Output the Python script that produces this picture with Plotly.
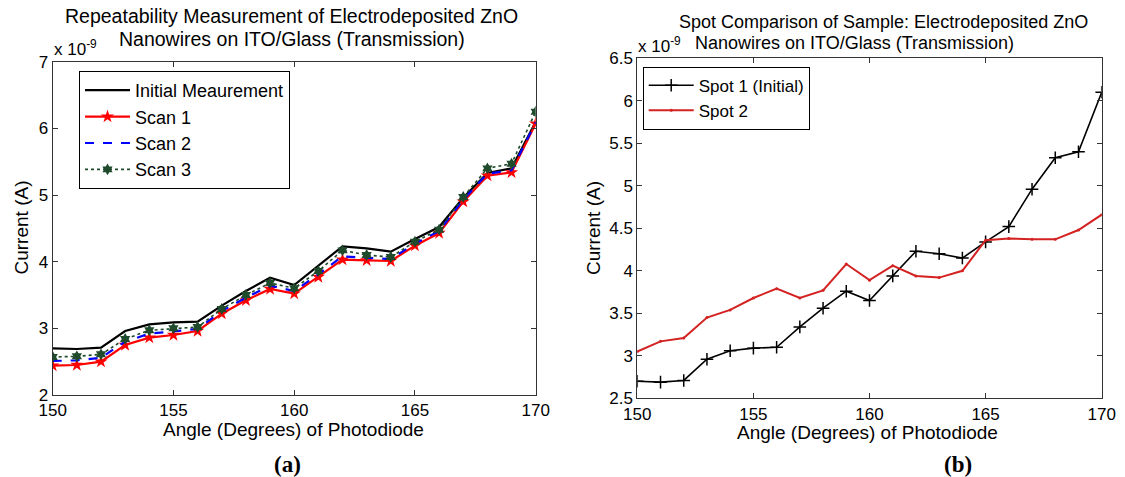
import plotly.graph_objects as go

# ---- data (current in units of 1e-9 A) ----
angles = list(range(150, 171))
initial = [2.70, 2.69, 2.71, 2.96, 3.06, 3.09, 3.10, 3.34, 3.56, 3.76, 3.65,
           3.94, 4.23, 4.20, 4.15, 4.34, 4.52, 4.96, 5.33, 5.40, 6.10]
scan1 = [2.44, 2.45, 2.50, 2.75, 2.86, 2.90, 2.96, 3.22, 3.42, 3.59, 3.52,
         3.77, 4.03, 4.02, 4.01, 4.24, 4.43, 4.90, 5.29, 5.34, 6.07]
scan2 = [2.51, 2.52, 2.56, 2.80, 2.92, 2.95, 2.99, 3.26, 3.46, 3.64, 3.56,
         3.81, 4.08, 4.06, 4.04, 4.27, 4.46, 4.93, 5.32, 5.37, 6.09]
scan3 = [2.57, 2.58, 2.61, 2.84, 2.97, 3.00, 3.02, 3.29, 3.50, 3.68, 3.60,
         3.86, 4.17, 4.10, 4.07, 4.30, 4.48, 4.97, 5.40, 5.47, 6.25]
spot1 = [2.70, 2.69, 2.71, 2.96, 3.06, 3.09, 3.10, 3.34, 3.56, 3.76, 3.65,
         3.94, 4.23, 4.20, 4.15, 4.34, 4.52, 4.96, 5.33, 5.40, 6.10]
spot2 = [3.05, 3.17, 3.21, 3.45, 3.54, 3.68, 3.79, 3.68, 3.77, 4.08, 3.89,
         4.06, 3.94, 3.92, 4.00, 4.36, 4.38, 4.37, 4.37, 4.48, 4.66]

x_ticks = [150, 155, 160, 165, 170]
y_ticks_a = [2, 3, 4, 5, 6, 7]
y_ticks_b = [2.5, 3, 3.5, 4, 4.5, 5, 5.5, 6, 6.5]
y_ticklabels_b = ["2.5", "3", "3.5", "4", "4.5", "5", "5.5", "6", "6.5"]

title_a = ["Repeatability Measurement of Electrodeposited ZnO",
           "Nanowires on ITO/Glass (Transmission)"]
title_b = ["Spot Comparison of Sample: Electrodeposited ZnO",
           "Nanowires on ITO/Glass (Transmission)"]
x_title = "Angle (Degrees) of Photodiode"
y_title = "Current (A)"

W, H = 1125, 477
FONT = "Liberation Sans, Arial, sans-serif"


def px(x):
    return x / W


def py(y):
    return 1 - y / H


fig = go.Figure()

# ---- panel (a) ----
fig.add_trace(go.Scatter(x=angles, y=initial, name="Initial Meaurement", mode="lines",
                         line=dict(color="black", width=2.2),
                         xaxis="x", yaxis="y", legend="legend"))
fig.add_trace(go.Scatter(x=angles, y=scan1, name="Scan 1", mode="lines+markers",
                         line=dict(color="#ff0000", width=2.2),
                         marker=dict(symbol="star", size=10, color="#ff0000"),
                         xaxis="x", yaxis="y", legend="legend"))
fig.add_trace(go.Scatter(x=angles, y=scan2, name="Scan 2", mode="lines",
                         line=dict(color="#0000ff", width=2.2, dash="dash"),
                         xaxis="x", yaxis="y", legend="legend"))
fig.add_trace(go.Scatter(x=angles, y=scan3, name="Scan 3", mode="lines+markers",
                         line=dict(color="#1f4a2c", width=1.6, dash="dot"),
                         marker=dict(symbol="hexagram", size=9, color="#1f4a2c"),
                         xaxis="x", yaxis="y", legend="legend"))

# ---- panel (b) ----
fig.add_trace(go.Scatter(x=angles, y=spot1, name="Spot 1 (Initial)", mode="lines+markers",
                         line=dict(color="black", width=1.6),
                         marker=dict(symbol="cross-thin", size=9,
                                     line=dict(color="black", width=1.5)),
                         xaxis="x2", yaxis="y2", legend="legend2"))
fig.add_trace(go.Scatter(x=angles, y=spot2, name="Spot 2", mode="lines+markers",
                         line=dict(color="#d42222", width=2),
                         marker=dict(symbol="circle", size=3, color="#d42222"),
                         xaxis="x2", yaxis="y2", legend="legend2"))

axis_common = dict(showline=True, linecolor="#333333", linewidth=1, mirror="ticks",
                   ticks="inside", ticklen=5, tickcolor="#333333", showgrid=False,
                   zeroline=False, automargin=False,
                   tickfont=dict(family=FONT, size=17, color="black"))

fig.update_layout(
    width=W, height=H,
    margin=dict(l=0, r=0, t=0, b=0, pad=0),
    paper_bgcolor="white", plot_bgcolor="white",
    showlegend=True,
    xaxis=dict(domain=[px(52.7), px(535.7)], range=[150, 170], tickvals=x_ticks,
               anchor="y", **axis_common),
    yaxis=dict(domain=[py(395), py(61.7)], range=[2, 7], tickvals=y_ticks_a,
               anchor="x", **axis_common),
    xaxis2=dict(domain=[px(637.3), px(1101.7)], range=[150, 170], tickvals=x_ticks,
                anchor="y2", **axis_common),
    yaxis2=dict(domain=[py(398.3), py(58.3)], range=[2.5, 6.5], tickvals=y_ticks_b,
                ticktext=y_ticklabels_b, anchor="x2", **axis_common),
    legend=dict(x=px(79), y=py(71), xanchor="left", yanchor="top",
                bgcolor="white", bordercolor="black", borderwidth=1,
                font=dict(family=FONT, size=18, color="black"),
                itemwidth=45, tracegroupgap=0),
    legend2=dict(x=px(642.7), y=py(66.7), xanchor="left", yanchor="top",
                 bgcolor="white", bordercolor="black", borderwidth=1,
                 font=dict(family=FONT, size=17, color="black"),
                 itemwidth=45, tracegroupgap=0),
)

ann = []
tfont_a = dict(family=FONT, size=19.5, color="black")
tfont_b = dict(family=FONT, size=18, color="black")
afont = dict(family=FONT, size=19, color="black")
# titles
ann.append(dict(text=title_a[0], x=px(291), y=py(16.5), font=tfont_a))
ann.append(dict(text=title_a[1], x=px(292), y=py(39), font=tfont_a))
ann.append(dict(text=title_b[0], x=px(883), y=py(22), font=tfont_b))
ann.append(dict(text=title_b[1], x=px(854), y=py(43.5), font=tfont_b))
# exponent labels
ann.append(dict(text="x 10<sup>-9</sup>", x=px(52), y=py(48), xanchor="left",
                font=dict(family=FONT, size=17, color="black")))
ann.append(dict(text="x 10<sup>-9</sup>", x=px(636), y=py(45), xanchor="left",
                font=dict(family=FONT, size=17, color="black")))
# axis titles
ann.append(dict(text=x_title, x=px(293), y=py(429), font=afont))
ann.append(dict(text=x_title, x=px(867), y=py(432), font=afont))
ann.append(dict(text=y_title, x=px(20.5), y=py(228), textangle=-90, font=afont))
ann.append(dict(text=y_title, x=px(593), y=py(228), textangle=-90, font=afont))
# panel labels
pfont = dict(family="Liberation Serif, Times New Roman, serif", size=23, color="black")
ann.append(dict(text="<b>(a)</b>", x=px(287), y=py(464), font=pfont))
ann.append(dict(text="<b>(b)</b>", x=px(958), y=py(464), font=pfont))

for a in ann:
    a.setdefault("xref", "paper")
    a.setdefault("yref", "paper")
    a.setdefault("xanchor", "center")
    a.setdefault("yanchor", "middle")
    a["showarrow"] = False
fig.update_layout(annotations=ann)

fig.write_html("out.html")
